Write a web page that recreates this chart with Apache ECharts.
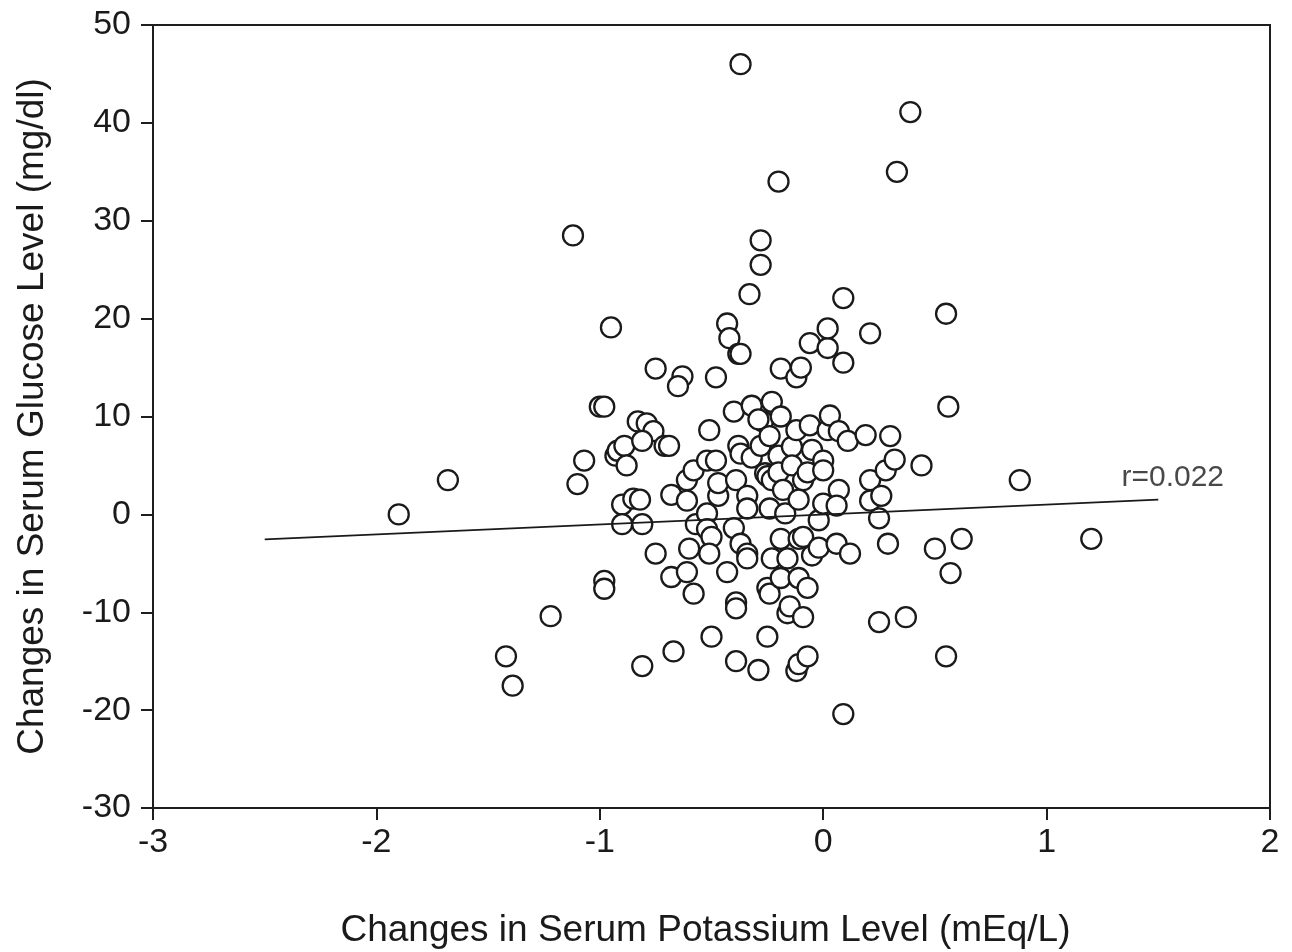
<!DOCTYPE html>
<html>
<head>
<meta charset="utf-8">
<script src="https://cdn.jsdelivr.net/npm/echarts@6/dist/echarts.min.js"></script>
<style>
html,body{margin:0;padding:0;background:#fff;}
#chart{width:1292px;height:952px;}
</style>
</head>
<body>
<div id="chart"></div>
<script>
// Changes in serum potassium (x) and glucose (y)
const potassium = [
-1.90,-1.68,-1.22,-1.42,-1.39,-1.12,-1.10,-1.07,-1.00,-0.98,
-0.95,-0.98,-0.98,-0.93,-0.92,-0.89,-0.88,-0.90,-0.90,-0.85,
-0.82,-0.81,-0.83,-0.79,-0.76,-0.81,-0.75,-0.75,-0.81,-0.67,
-0.71,-0.69,-0.63,-0.65,-0.68,-0.68,-0.61,-0.61,-0.58,-0.61,
-0.60,-0.58,-0.57,-0.52,-0.52,-0.50,-0.51,-0.51,-0.52,-0.48,
-0.48,-0.50,-0.47,-0.47,-0.43,-0.42,-0.38,-0.37,-0.43,-0.40,
-0.40,-0.38,-0.37,-0.32,-0.39,-0.39,-0.39,-0.39,-0.37,-0.33,
-0.37,-0.34,-0.34,-0.32,-0.34,-0.34,-0.28,-0.28,-0.29,-0.27,
-0.29,-0.28,-0.26,-0.25,-0.23,-0.24,-0.25,-0.24,-0.25,-0.23,
-0.24,-0.23,-0.20,-0.19,-0.19,-0.20,-0.20,-0.18,-0.17,-0.19,
-0.19,-0.16,-0.15,-0.16,-0.14,-0.14,-0.12,-0.12,-0.10,-0.09,
-0.11,-0.11,-0.09,-0.11,-0.09,-0.12,-0.11,-0.07,-0.07,-0.06,
-0.05,-0.07,-0.06,-0.05,-0.02,-0.02,0.00,0.00,0.00,0.02,
0.02,0.02,0.03,0.07,0.06,0.07,0.06,0.09,0.09,0.09,
0.11,0.12,0.19,0.21,0.21,0.21,0.26,0.25,0.25,0.28,
0.30,0.29,0.32,0.33,0.39,0.37,0.44,0.50,0.55,0.56,
0.55,0.57,0.62,0.88,1.20
];
const glucose = [
0.0,3.5,-10.4,-14.5,-17.5,28.5,3.1,5.5,11.0,11.0,
19.1,-6.8,-7.6,6.0,6.5,7.0,5.0,1.0,-1.0,1.6,
1.5,-1.0,9.5,9.3,8.5,7.5,14.9,-4.0,-15.5,-14.0,
7.0,7.0,14.1,13.1,2.0,-6.4,3.5,1.4,4.5,-5.9,
-3.5,-8.1,-1.0,0.1,-1.5,-2.3,-4.0,8.6,5.5,5.5,
14.0,-12.5,1.9,3.2,19.5,18.0,16.4,16.4,-5.9,-1.4,
10.5,7.0,6.2,5.8,3.5,-9.0,-9.6,-15.0,46.0,22.5,
-3.0,-4.0,-4.5,11.1,1.9,0.6,28.0,25.5,-15.9,9.5,
9.7,7.0,4.2,3.9,3.5,0.6,-7.5,-8.1,-12.5,11.5,
8.0,-4.5,34.0,14.9,10.0,6.0,4.3,2.5,0.1,-2.5,
-6.5,-10.1,-9.4,-4.5,6.9,5.0,14.0,8.6,15.0,3.5,
1.5,-6.5,-10.5,-2.5,-2.3,-16.0,-15.3,-14.5,-7.5,17.5,
6.6,4.3,9.1,-4.2,-3.4,-0.6,1.1,5.5,4.5,8.6,
17.0,19.0,10.1,8.5,-3.0,2.5,0.9,22.1,15.5,-20.4,
7.5,-4.0,8.1,18.5,3.5,1.4,1.9,-0.4,-11.0,4.5,
8.0,-3.0,5.6,35.0,41.1,-10.5,5.0,-3.5,20.5,11.0,
-14.5,-6.0,-2.5,3.5,-2.5
];
// regression line end points
const fitX = [-2.5, 1.5];
const fitY = [-2.55, 1.5];
const rLabel = 'r=0.022';
const rLabelPos = [1.335, 3.7];
const xTicks = [-3, -2, -1, 0, 1, 2];
const yTicks = [-30, -20, -10, 0, 10, 20, 30, 40, 50];

const FONT = '"Liberation Sans", Arial, Helvetica, sans-serif';
const TXT = '#1a1a1a';

const chart = echarts.init(document.getElementById('chart'), null, {renderer: 'canvas'});
chart.setOption({
  animation: false,
  backgroundColor: '#ffffff',
  grid: {left: 153, top: 25, right: 22, bottom: 144, containLabel: false, outerBoundsMode: 'none',
         show: true, borderColor: '#1e1e1e', borderWidth: 2, backgroundColor: 'transparent'},
  xAxis: {
    type: 'value', min: xTicks[0], max: xTicks[xTicks.length-1], interval: 1,
    name: 'Changes in Serum Potassium Level (mEq/L)', nameLocation: 'middle', nameGap: 104,
    nameTextStyle: {fontFamily: FONT, fontSize: 37, color: TXT, padding: [0, 12, 0, 0]},
    axisLine: {show: true, onZero: false, lineStyle: {color: '#1e1e1e', width: 2}},
    axisTick: {show: true, inside: false, length: 12, lineStyle: {color: '#1e1e1e', width: 2}},
    axisLabel: {fontFamily: FONT, fontSize: 34, color: TXT, margin: 18},
    splitLine: {show: false}
  },
  yAxis: {
    type: 'value', min: yTicks[0], max: yTicks[yTicks.length-1], interval: 10,
    name: 'Changes in Serum Glucose Level (mg/dl)', nameLocation: 'middle', nameGap: 102,
    nameTextStyle: {fontFamily: FONT, fontSize: 37, color: TXT},
    axisLine: {show: true, onZero: false, lineStyle: {color: '#1e1e1e', width: 2}},
    axisTick: {show: true, inside: false, length: 12, lineStyle: {color: '#1e1e1e', width: 2}},
    axisLabel: {fontFamily: FONT, fontSize: 34, color: TXT, margin: 22},
    splitLine: {show: false}
  },
  series: [
    {
      type: 'scatter',
      data: potassium.map((x, i) => [x, glucose[i]]),
      symbol: 'circle', symbolSize: 20,
      itemStyle: {color: '#ffffff', borderColor: '#1a1a1a', borderWidth: 2.3, opacity: 1},
      z: 2
    },
    {
      type: 'line',
      data: fitX.map((x, i) => [x, fitY[i]]),
      showSymbol: false, symbol: 'none',
      lineStyle: {color: '#1a1a1a', width: 1.8},
      z: 3
    },
    {
      type: 'scatter',
      data: [rLabelPos],
      symbolSize: 0,
      label: {show: true, position: 'right', distance: 0, formatter: rLabel, fontFamily: FONT, fontSize: 30, color: TXT},
      z: 4
    }
  ]
});
</script>
</body>
</html>
